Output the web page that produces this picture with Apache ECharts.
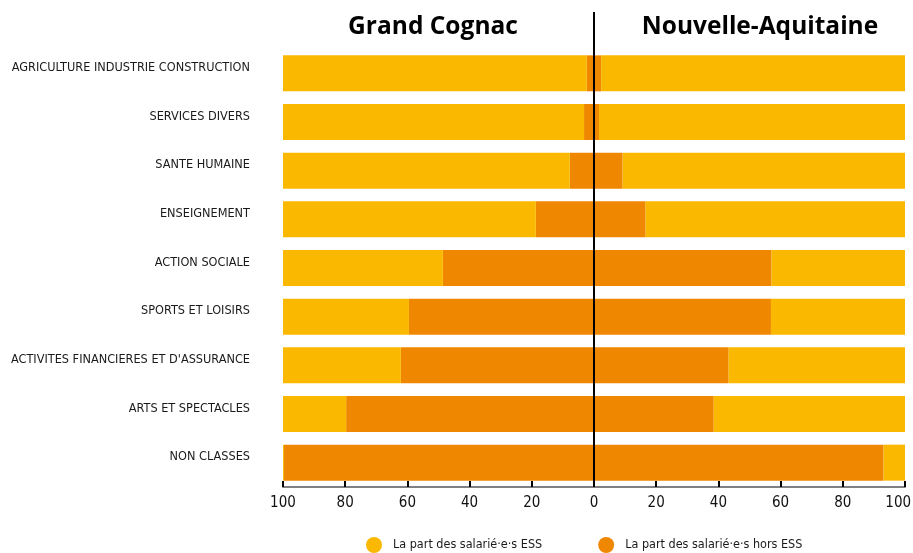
<!DOCTYPE html>
<html>
<head>
<meta charset="utf-8">
<script src="https://cdn.jsdelivr.net/npm/echarts@6/dist/echarts.min.js"></script>
<style>html,body{margin:0;padding:0;background:#fff}#c{width:913px;height:553px}</style>
</head>
<body>
<div id="c"></div>
<script>
// Categories (top to bottom)
const categories = [
  "AGRICULTURE INDUSTRIE CONSTRUCTION",
  "SERVICES DIVERS",
  "SANTE HUMAINE",
  "ENSEIGNEMENT",
  "ACTION SOCIALE",
  "SPORTS ET LOISIRS",
  "ACTIVITES FINANCIERES ET D'ASSURANCE",
  "ARTS ET SPECTACLES",
  "NON CLASSES"
];
const panelTitles = ["Grand Cognac", "Nouvelle-Aquitaine"];
const legendNames = ["La part des salarié·e·s ESS", "La part des salarié·e·s hors ESS"];

// Grand Cognac (left side)
const cognacOrange = [2.3, 3.2, 7.8, 18.7, 48.6, 59.5, 62.1, 79.7, 99.7];
const cognacYellow = [97.7, 96.8, 92.2, 81.3, 51.4, 40.5, 37.9, 20.3, 0.3];
// Nouvelle-Aquitaine (right side)
const naOrange = [2.3, 1.6, 9.2, 16.6, 57.1, 56.9, 43.3, 38.5, 93.1];
const naYellow = [97.7, 98.4, 90.8, 83.4, 42.9, 43.1, 56.7, 61.5, 6.9];

const YELLOW = '#FAB900';
const ORANGE = '#F08700';
const NARROW = '"DejaVu Sans Condensed", "Liberation Sans Narrow", "Liberation Sans", sans-serif';

const chart = echarts.init(document.getElementById('c'), null, {renderer: 'canvas'});
const neg = a => a.map(v => -v);

const barBase = {type: 'bar', stack: 'all', barWidth: 36, emphasis: {disabled: true}};

chart.setOption({
  animation: false,
  title: [
    {text: panelTitles[0], left: 428, top: 10, textAlign: 'center',
     textStyle: {fontFamily: 'Open Sans', fontWeight: 700, fontSize: 24.5, color: '#000'}},
    {text: panelTitles[1], left: 755, top: 10, textAlign: 'center',
     textStyle: {fontFamily: 'Open Sans', fontWeight: 700, fontSize: 24.5, color: '#000'}}
  ],
  legend: {
    data: [{name: legendNames[0]}, {name: legendNames[1]}],
    left: 361, top: 532,
    icon: 'circle', itemWidth: 16, itemHeight: 16, itemGap: 56,
    textStyle: {fontFamily: NARROW, fontSize: 12.5, color: '#1a1a1a', padding: [0, 0, 0, 6]}
  },
  grid: {left: 283, right: 8, top: 49, bottom: 66, containLabel: false, outerBoundsMode: 'none'},
  xAxis: {
    type: 'value', min: -100, max: 100, interval: 20,
    splitLine: {show: false},
    axisLine: {show: true, onZero: false, lineStyle: {color: '#808080', width: 2}},
    axisTick: {show: true, inside: true, length: 6, lineStyle: {color: '#000', width: 2}},
    axisLabel: {
      // the right-most label gets a trailing em space so it stays inside the canvas
      formatter: v => (v === 100 ? '100\u2003' : String(Math.abs(v))),
      fontFamily: NARROW, fontSize: 15, color: '#111', margin: 9
    }
  },
  yAxis: {
    type: 'category', data: categories, inverse: true,
    axisLine: {show: false, onZero: false}, axisTick: {show: false},
    axisLabel: {fontFamily: NARROW, fontSize: 12.6, color: '#1a1a1a', margin: 33,
      verticalAlign: 'bottom', lineHeight: 11}
  },
  series: [
    Object.assign({}, barBase, {name: legendNames[1], data: neg(cognacOrange), itemStyle: {color: ORANGE}}),
    Object.assign({}, barBase, {name: legendNames[0], data: neg(cognacYellow), itemStyle: {color: YELLOW}}),
    Object.assign({}, barBase, {name: legendNames[1], data: naOrange, itemStyle: {color: ORANGE}}),
    Object.assign({}, barBase, {name: legendNames[0], data: naYellow, itemStyle: {color: YELLOW}})
  ]
});

// Central divider line from below the titles down to the axis
const x0 = chart.convertToPixel({xAxisIndex: 0}, 0);
const yBottom = chart.getHeight() - 66;
chart.setOption({
  graphic: [{type: 'line', z: 100, shape: {x1: x0, y1: 12, x2: x0, y2: yBottom},
    style: {stroke: '#000', lineWidth: 2}}]
});
</script>
</body>
</html>
